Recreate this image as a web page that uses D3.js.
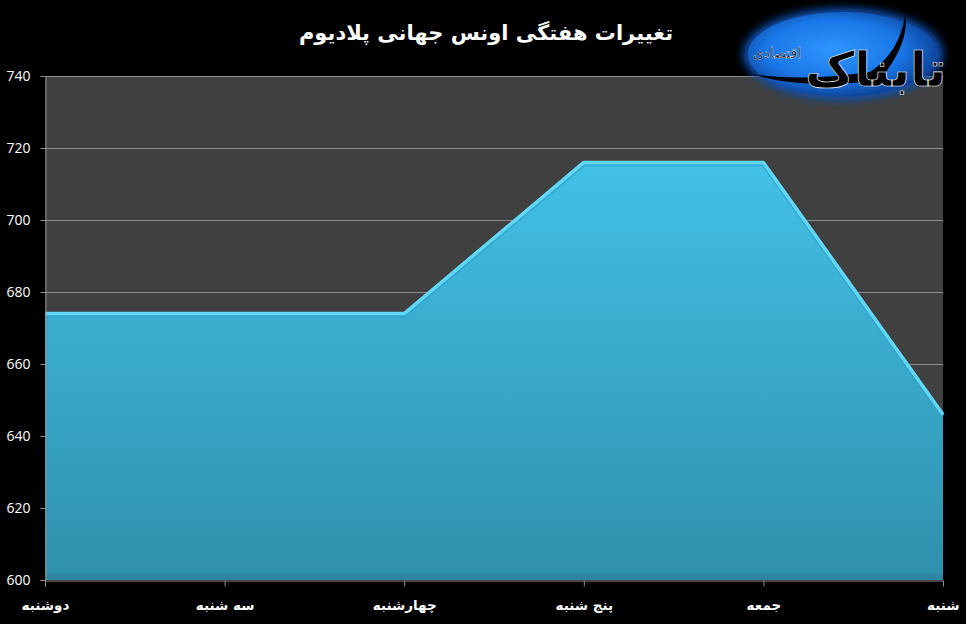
<!DOCTYPE html>
<html>
<head>
<meta charset="utf-8">
<script src="https://cdn.jsdelivr.net/npm/d3@7"></script>
<style>
  html, body { margin: 0; padding: 0; background: #000; }
  svg { display: block; }
</style>
</head>
<body>
<svg id="chart" width="966" height="624"></svg>
<script>
const title = "تغییرات هفتگی اونس جهانی پلادیوم";
const categories = ["دوشنبه", "سه شنبه", "چهارشنبه", "پنج شنبه", "جمعه", "شنبه"];
const values = [674, 674, 674, 716, 716, 646];
const yTicks = [600, 620, 640, 660, 680, 700, 720, 740];
const logoMain = "تابناک";
const logoSub = "اقتصادی";

const svg = d3.select("#chart");
const W = 966, H = 624;
const m = { left: 45, right: 23, top: 76, bottom: 44 };

svg.append("rect").attr("width", W).attr("height", H).attr("fill", "#000");

const x = d3.scalePoint().domain(categories).range([m.left, W - m.right]).padding(0);
const y = d3.scaleLinear().domain([600, 740]).range([H - m.bottom, m.top]);

const defs = svg.append("defs");
const grad = defs.append("linearGradient").attr("id", "areaGrad")
  .attr("gradientUnits", "userSpaceOnUse")
  .attr("x1", 0).attr("x2", 0).attr("y1", y(720)).attr("y2", y(600));
grad.append("stop").attr("offset", "0%").attr("stop-color", "#43c2e8");
grad.append("stop").attr("offset", "100%").attr("stop-color", "#2f90ac");

const logoGrad = defs.append("radialGradient").attr("id", "logoGrad")
  .attr("cx", "45%").attr("cy", "45%").attr("r", "60%");
logoGrad.append("stop").attr("offset", "0%").attr("stop-color", "#2e96ff");
logoGrad.append("stop").attr("offset", "60%").attr("stop-color", "#1976e6");
logoGrad.append("stop").attr("offset", "100%").attr("stop-color", "#0a3a8a");
const blur = defs.append("filter").attr("id", "glow").attr("x", "-20%").attr("y", "-30%").attr("width", "140%").attr("height", "160%");
blur.append("feGaussianBlur").attr("stdDeviation", 4);

// plot background
svg.append("rect")
  .attr("x", m.left).attr("y", m.top)
  .attr("width", W - m.right - m.left).attr("height", H - m.bottom - m.top)
  .attr("fill", "#404040");

// grid lines
svg.append("g").selectAll("line").data(yTicks.slice(1)).join("line")
  .attr("x1", m.left).attr("x2", W - m.right)
  .attr("y1", d => Math.round(y(d)) + 0.5).attr("y2", d => Math.round(y(d)) + 0.5)
  .attr("stroke", "#8c8c8c").attr("stroke-width", 1);

// area
const area = d3.area().x(d => x(d.c)).y0(y(600)).y1(d => y(d.v));
const line = d3.line().x(d => x(d.c)).y(d => y(d.v));
const pts = categories.map((c, i) => ({ c, v: values[i] }));

svg.append("path").datum(pts).attr("d", area).attr("fill", "url(#areaGrad)");
svg.append("rect").attr("x", m.left).attr("y", y(600) - 6).attr("width", W - m.right - m.left).attr("height", 6)
  .attr("fill", "#2a8099").attr("opacity", 0.6);
svg.append("path").datum(pts).attr("d", line).attr("fill", "none")
  .attr("stroke", "#2f9fc4").attr("stroke-width", 4).attr("transform", "translate(0,2)").attr("opacity", 0.6);
svg.append("path").datum(pts).attr("d", line).attr("fill", "none")
  .attr("stroke", "#62d8f8").attr("stroke-width", 3.5).attr("stroke-linejoin", "round");

// y axis
const yAxis = d3.axisLeft(y).tickValues(yTicks).tickSize(5).tickPadding(10);
const gy = svg.append("g").attr("transform", `translate(${m.left + 0.5},0)`).call(yAxis);
gy.select(".domain").attr("stroke", "#8c8c8c");
gy.selectAll(".tick line").attr("stroke", "#8c8c8c");
gy.selectAll(".tick text").attr("fill", "#fff").attr("font-family", "'Open Sans', 'Liberation Sans', sans-serif")
  .attr("font-size", 14).attr("x", -15);

// x axis
const xAxis = d3.axisBottom(x).tickSize(6).tickPadding(14);
const gx = svg.append("g").attr("transform", `translate(0,${y(600) + 0.5})`).call(xAxis);
gx.select(".domain").attr("stroke", "#8c8c8c");
gx.selectAll(".tick line").attr("stroke", "#8c8c8c");
gx.selectAll(".tick text").attr("fill", "#fff").attr("font-family", "'DejaVu Sans', sans-serif")
  .attr("font-weight", "bold").attr("font-size", 13.5);
gx.selectAll(".tick").filter((d, i) => i === categories.length - 1)
  .select("text").attr("text-anchor", "end").attr("dx", 16);

// title
svg.append("text").attr("x", 486).attr("y", 40).attr("text-anchor", "middle")
  .attr("fill", "#fff").attr("font-family", "'DejaVu Sans', sans-serif")
  .attr("font-weight", "bold").attr("font-size", 21).text(title);

// logo
const logo = svg.append("g");
logo.append("ellipse").attr("cx", 843).attr("cy", 54).attr("rx", 100).attr("ry", 46)
  .attr("fill", "#0a4fb0").attr("filter", "url(#glow)");
logo.append("ellipse").attr("cx", 843).attr("cy", 54).attr("rx", 95).attr("ry", 42)
  .attr("fill", "url(#logoGrad)");
logo.append("path")
  .attr("d", "M752,74 Q800,90 880,80 Q910,42 905,15 Q900,52 870,72 Q800,82 752,74 Z")
  .attr("fill", "#000");
const mainT = logo.append("text").attr("x", 946).attr("y", 86).attr("text-anchor", "end")
  .attr("font-family", "'DejaVu Sans', sans-serif").attr("font-weight", "bold")
  .attr("font-size", 48).attr("fill", "#000").attr("stroke", "#fff").attr("stroke-width", 0.6)
  .text(logoMain);
const mw = mainT.node().getComputedTextLength();
logo.append("text").attr("x", 946 - mw - 4).attr("y", 58).attr("text-anchor", "end")
  .attr("font-family", "'DejaVu Sans', sans-serif").attr("font-size", 14).attr("fill", "#000")
  .attr("stroke", "#fff").attr("stroke-width", 0.3)
  .text(logoSub);
</script>
</body>
</html>
